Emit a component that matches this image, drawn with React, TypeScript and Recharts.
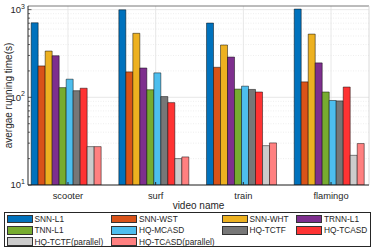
import React from 'react'
import { BarChart, Bar, XAxis, YAxis, CartesianGrid, ReferenceLine } from 'recharts'

const categories = ['scooter', 'surf', 'train', 'flamingo']

const seriesNames = [
    'SNN-L1', 'SNN-WST', 'SNN-WHT', 'TRNN-L1', 'TNN-L1',
    'HQ-MCASD', 'HQ-TCTF', 'HQ-TCASD', 'HQ-TCTF(parallel)', 'HQ-TCASD(parallel)',
]
const seriesColors = [
    '#0072BD', '#D95319', '#EDB120', '#7E2F8E', '#77AC30',
    '#4DBEEE', '#777777', '#FF3333', '#CCCCCC', '#FF8080',
]

// running time (s) per video, same order as categories
const snnL1 = [708, 995, 703, 1015]
const snnWst = [228, 195, 220, 150]
const snnWht = [337, 537, 395, 526]
const trnnL1 = [298, 216, 288, 247]
const tnnL1 = [129, 122, 124, 115]
const hqMcasd = [161, 190, 134, 92]
const hqTctf = [119, 102, 123, 91]
const hqTcasd = [127, 87, 115, 131]
const hqTctfPar = [27.4, 20, 28.1, 21.8]
const hqTcasdPar = [27.4, 20.9, 30.2, 29.7]

const seriesValues = [snnL1, snnWst, snnWht, trnnL1, tnnL1, hqMcasd, hqTctf, hqTcasd, hqTctfPar, hqTcasdPar]

const majorTicks = [10, 100, 1000]
const minorTicks = [20, 30, 40, 50, 60, 70, 80, 90, 200, 300, 400, 500, 600, 700, 800, 900]
const yTicks = [...majorTicks, ...minorTicks].sort((a, b) => a - b)
const yDomain = [10, 1100]
const xDomain = [0.544, 4.433]

const data = categories.map((name, i) => {
    const row: Record<string, number | string> = { x: i + 1, name }
    seriesNames.forEach((s, k) => { row[s] = seriesValues[k][i] })
    return row
})

const ink = '#262626'

const YTick = (props: any) => {
    const { x, y, payload } = props
    const v = payload.value
    const major = majorTicks.includes(v)
    const axisX = x + 3
    return (
        <g>
            <line x1={axisX} x2={axisX + (major ? 3.5 : 2)} y1={y} y2={y} stroke={ink} strokeWidth={0.7} />
            {major && (
                <text x={x} y={y} dy={3.4} textAnchor="end" fontSize={9.5} fill={ink}>
                    10<tspan fontSize={7} dy={-4.5}>{Math.round(Math.log10(v))}</tspan>
                </text>
            )}
        </g>
    )
}

const YLabel = (props: any) => {
    const vb = props.viewBox
    const cx = vb.x + 8
    const cy = vb.y + vb.height / 2
    return (
        <text x={cx} y={cy} dy={3.5} textAnchor="middle" fontSize={10} fill={ink} transform={`rotate(-90 ${cx} ${cy})`}>
            avergae running time(s)
        </text>
    )
}

export default function App() {
    return (
        <div style={{ position: 'absolute', left: 0, top: 0, width: 374, height: 249, background: '#fff', fontFamily: 'Arial, "Liberation Sans", sans-serif' }}>
            <BarChart
                width={374}
                height={249}
                data={data}
                margin={{ top: 6, right: 5, bottom: 37, left: 0 }}
                barCategoryGap="8%"
                barGap={0}
                style={{ fontFamily: 'Arial, "Liberation Sans", sans-serif' }}
            >
                <CartesianGrid horizontalValues={minorTicks} vertical={false} stroke="#e6e6e6" strokeDasharray="1 1.5" strokeWidth={0.7} />
                <CartesianGrid horizontalValues={majorTicks} verticalValues={[1, 2, 3, 4]} stroke="#e2e2e2" strokeWidth={0.8} />
                <XAxis
                    type="number"
                    dataKey="x"
                    domain={xDomain}
                    allowDataOverflow
                    ticks={[1, 2, 3, 4]}
                    interval={0}
                    tickFormatter={(v: number) => categories[v - 1]}
                    height={27}
                    tickSize={-3}
                    tickMargin={10}
                    stroke={ink}
                    tick={{ fontSize: 9.3, fill: ink }}
                    label={{ value: 'video name', position: 'insideBottom', offset: 3.5, fontSize: 10, fill: ink }}
                />
                <YAxis
                    scale="log"
                    domain={yDomain}
                    allowDataOverflow
                    ticks={yTicks}
                    interval={0}
                    width={28}
                    tickSize={0}
                    tickMargin={3}
                    tickLine={false}
                    stroke={ink}
                    tick={<YTick />}
                    label={<YLabel />}
                />
                <ReferenceLine y={yDomain[1]} stroke="#555" strokeWidth={0.8} />
                <ReferenceLine x={xDomain[1]} stroke="#d0d0d0" strokeWidth={0.8} />
                {seriesNames.map((s, i) => (
                    <Bar
                        key={s}
                        dataKey={s}
                        fill={seriesColors[i]}
                        stroke="rgba(0,0,0,0.6)"
                        strokeWidth={0.8}
                        isAnimationActive={false}
                    />
                ))}
            </BarChart>
            <div
                style={{
                    position: 'absolute', left: 4, top: 212, width: 367, height: 35,
                    border: `1px solid ${ink}`, boxSizing: 'border-box', background: '#fff',
                    display: 'grid', gridTemplateColumns: '104.5px 110.5px 74.5px 1fr', gridAutoRows: '11.3px',
                    paddingLeft: 1.5, paddingTop: 0.5, fontSize: 8.3, color: ink,
                }}
            >
                {seriesNames.map((s, i) => (
                    <div key={s} style={{ display: 'flex', alignItems: 'center', whiteSpace: 'nowrap' }}>
                        <span style={{ display: 'inline-block', width: 26, height: 8.5, background: seriesColors[i], border: '1px solid #333', boxSizing: 'border-box', marginRight: 2 }} />
                        <span style={{ lineHeight: 1 }}>{s}</span>
                    </div>
                ))}
            </div>
        </div>
    )
}
